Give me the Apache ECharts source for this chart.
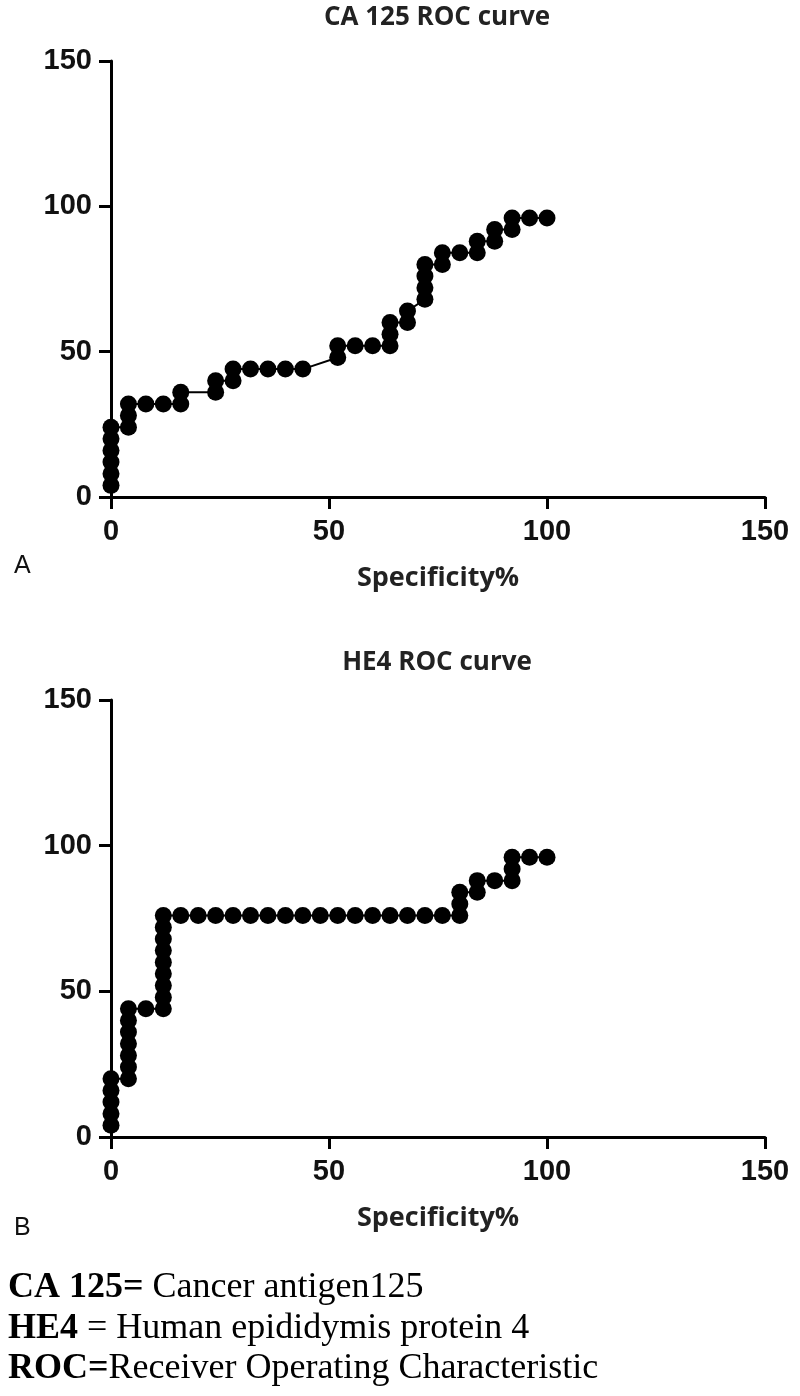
<!DOCTYPE html>
<html>
<head>
<meta charset="utf-8">
<script src="https://cdn.jsdelivr.net/npm/echarts@6/dist/echarts.min.js"></script>
<style>
html,body{margin:0;padding:0;background:#fff;}
#c{width:800px;height:1396px;}
</style>
</head>
<body>
<div id="c"></div>
<script>
// ---- data ----
var xTicks = [0, 50, 100, 150];
var yTicks = [0, 50, 100, 150];
var caTitle = 'CA 125 ROC curve';
var heTitle = 'HE4 ROC curve';
var xName = 'Specificity%';

var caSpec = [0,0,0,0,0,0, 4,4,4, 8, 12, 16,16, 24,24, 28,28, 32,36,40,44, 52,52, 56, 60, 64,64,64, 68,68, 72,72,72,72, 76,76, 80, 84,84, 88,88, 92,92, 96, 100];
var caSens = [4,8,12,16,20,24, 24,28,32, 32, 32, 32,36, 36,40, 40,44, 44,44,44,44, 48,52, 52, 52, 52,56,60, 60,64, 68,72,76,80, 80,84, 84, 84,88, 88,92, 92,96, 96, 96];

var heSpec = [0,0,0,0,0, 4,4,4,4,4,4,4, 8, 12,12,12,12,12,12,12,12,12, 16,20,24,28,32,36,40,44,48,52,56,60,64,68,72,76, 80,80,80, 84,84, 88, 92,92,92, 96, 100];
var heSens = [4,8,12,16,20, 20,24,28,32,36,40,44, 44, 44,48,52,56,60,64,68,72,76, 76,76,76,76,76,76,76,76,76,76,76,76,76,76,76,76, 76,80,84, 84,88, 88, 88,92,96, 96, 96];

var footLines = [
  ['CA 125=', ' Cancer antigen125'],
  ['HE4', ' = Human epididymis protein 4'],
  ['ROC=', 'Receiver Operating Characteristic']
];

function pairs(xs, ys){ return xs.map(function(x,i){ return [x, ys[i]]; }); }

var tickFont = { fontFamily: 'Liberation Sans, Arial, sans-serif', fontWeight: 'bold', fontSize: 29, color: '#111' };

function xAxisFor(gi){
  return {
    gridIndex: gi, type: 'value', min: 0, max: 150, interval: 50,
    name: xName, nameLocation: 'middle', nameGap: 68,
    nameTextStyle: { fontFamily: 'Open Sans, sans-serif', fontWeight: 'bold', fontSize: 27, color: '#222' },
    axisLine: { show: true, lineStyle: { color: '#000', width: 3 } },
    axisTick: { show: true, inside: false, length: 12, lineStyle: { color: '#000', width: 3 } },
    axisLabel: Object.assign({ margin: 20 }, tickFont),
    splitLine: { show: false }
  };
}
function yAxisFor(gi){
  return {
    gridIndex: gi, type: 'value', min: 0, max: 150, interval: 50,
    axisLine: { show: true, lineStyle: { color: '#000', width: 3 } },
    axisTick: { show: true, inside: false, length: 12, lineStyle: { color: '#000', width: 3 } },
    axisLabel: Object.assign({ margin: 19 }, tickFont),
    splitLine: { show: false }
  };
}

var chart = echarts.init(document.getElementById('c'), null, { renderer: 'canvas' });

var footTops = [1270, 1311, 1351];
var footGraphics = footLines.map(function(l, i){
  return {
    type: 'text', x: 8, y: footTops[i],
    style: {
      text: '{b|' + l[0] + '}{n|' + l[1] + '}',
      rich: {
        b: { fontFamily: 'Liberation Serif, Times New Roman, serif', fontWeight: 'bold', fontSize: 36, fill: '#000' },
        n: { fontFamily: 'Liberation Serif, Times New Roman, serif', fontSize: 36, fill: '#000' }
      }
    }
  };
});

var titleStyle = { fontFamily: 'Open Sans, sans-serif', fontWeight: 'bold', fontSize: 26, fill: '#222', textAlign: 'center', textVerticalAlign: 'middle' };

chart.setOption({
  backgroundColor: '#fff',
  animation: false,
  grid: [
    { left: 111, top: 61, width: 654, height: 436 },
    { left: 111, top: 700, width: 654, height: 437 }
  ],
  xAxis: [xAxisFor(0), xAxisFor(1)],
  yAxis: [yAxisFor(0), yAxisFor(1)],
  series: [
    { type: 'line', xAxisIndex: 0, yAxisIndex: 0, data: pairs(caSpec, caSens),
      symbol: 'circle', symbolSize: 17, itemStyle: { color: '#000' },
      lineStyle: { color: '#000', width: 2 } },
    { type: 'line', xAxisIndex: 1, yAxisIndex: 1, data: pairs(heSpec, heSens),
      symbol: 'circle', symbolSize: 17, itemStyle: { color: '#000' },
      lineStyle: { color: '#000', width: 2 } }
  ],
  graphic: [
    { type: 'text', x: 437, y: 18, style: Object.assign({ text: caTitle }, titleStyle) },
    { type: 'text', x: 437, y: 663, style: Object.assign({ text: heTitle }, titleStyle) },
    { type: 'text', x: 14, y: 554, style: { text: 'A', fontFamily: 'Liberation Sans, Arial, sans-serif', fontSize: 25, fill: '#111' } },
    { type: 'text', x: 14, y: 1216, style: { text: 'B', fontFamily: 'Liberation Sans, Arial, sans-serif', fontSize: 25, fill: '#111' } }
  ].concat(footGraphics)
});
</script>
</body>
</html>
